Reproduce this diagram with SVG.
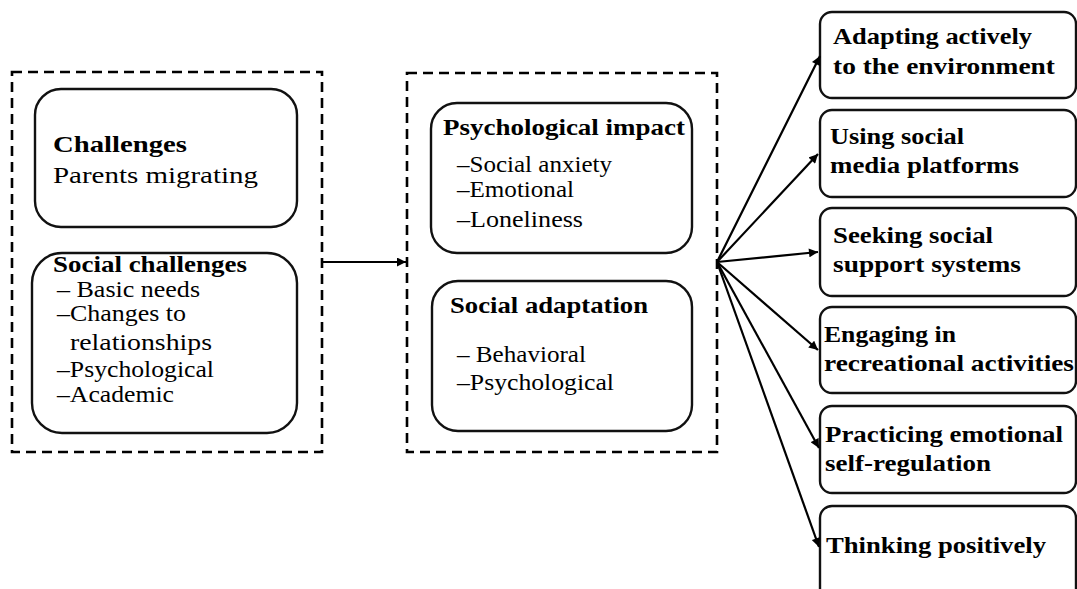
<svg xmlns="http://www.w3.org/2000/svg" width="1077" height="589" viewBox="0 0 1077 589">
<defs>
<style>
.dash{fill:none;stroke:#000;stroke-width:2.6;stroke-dasharray:10,6}
.box{fill:#fff;stroke:#111;stroke-width:2.4}
.t{font-family:"Liberation Serif",serif;font-size:24px;fill:#000}
.b{font-family:"Liberation Serif",serif;font-size:23px;font-weight:bold;fill:#000}
.c{stroke:#000;stroke-width:2.2;fill:none;marker-end:url(#ah)}
</style>
<marker id="ah" viewBox="0 0 10 10" refX="10" refY="5" markerWidth="10" markerHeight="9" markerUnits="userSpaceOnUse" orient="auto">
<path d="M0,0 L10,5 L0,10 z" fill="#000"/>
</marker>
</defs>
<rect width="1077" height="589" fill="#fff"/>

<g id="group-left">
<rect class="dash" x="12" y="72" width="310" height="380"/>
</g>
<g id="group-middle">
<rect class="dash" x="407" y="73" width="310" height="379"/>
</g>

<g id="node-challenges">
<rect class="box" x="35" y="89" width="262" height="138" rx="26"/>
<text class="b" x="53" y="152" font-size="25" textLength="134" lengthAdjust="spacingAndGlyphs">Challenges</text>
<text class="t" x="53" y="183" font-size="26" textLength="205" lengthAdjust="spacingAndGlyphs">Parents migrating</text>
</g>

<g id="node-social-challenges">
<rect class="box" x="32" y="253" width="265" height="180" rx="30"/>
<text class="b" x="53" y="272" textLength="194" lengthAdjust="spacingAndGlyphs">Social challenges</text>
<text class="t" x="57" y="297" textLength="143" lengthAdjust="spacingAndGlyphs">– Basic needs</text>
<text class="t" x="57" y="321" textLength="129" lengthAdjust="spacingAndGlyphs">–Changes to</text>
<text class="t" x="70" y="350" textLength="142" lengthAdjust="spacingAndGlyphs">relationships</text>
<text class="t" x="57" y="377" textLength="157" lengthAdjust="spacingAndGlyphs">–Psychological</text>
<text class="t" x="57" y="402" textLength="117" lengthAdjust="spacingAndGlyphs">–Academic</text>
</g>

<g id="node-psych-impact">
<rect class="box" x="431" y="103" width="261" height="150" rx="26"/>
<text class="b" x="443" y="135" textLength="242" lengthAdjust="spacingAndGlyphs">Psychological impact</text>
<text class="t" x="457" y="172" textLength="155" lengthAdjust="spacingAndGlyphs">–Social anxiety</text>
<text class="t" x="457" y="197" textLength="117" lengthAdjust="spacingAndGlyphs">–Emotional</text>
<text class="t" x="457" y="227" textLength="126" lengthAdjust="spacingAndGlyphs">–Loneliness</text>
</g>

<g id="node-social-adaptation">
<rect class="box" x="432" y="281" width="260" height="150" rx="26"/>
<text class="b" x="450" y="313" textLength="198" lengthAdjust="spacingAndGlyphs">Social adaptation</text>
<text class="t" x="457" y="362" textLength="129" lengthAdjust="spacingAndGlyphs">– Behavioral</text>
<text class="t" x="457" y="390" textLength="157" lengthAdjust="spacingAndGlyphs">–Psychological</text>
</g>

<g id="node-r1">
<rect class="box" x="820" y="12" width="256" height="86" rx="12"/>
<text class="b" x="833" y="44" textLength="199" lengthAdjust="spacingAndGlyphs">Adapting actively</text>
<text class="b" x="833" y="74" textLength="222" lengthAdjust="spacingAndGlyphs">to the environment</text>
</g>
<g id="node-r2">
<rect class="box" x="820" y="110" width="256" height="87" rx="12"/>
<text class="b" x="830" y="144" textLength="134" lengthAdjust="spacingAndGlyphs">Using social</text>
<text class="b" x="830" y="173" textLength="189" lengthAdjust="spacingAndGlyphs">media platforms</text>
</g>
<g id="node-r3">
<rect class="box" x="820" y="208" width="256" height="88" rx="12"/>
<text class="b" x="833" y="243" textLength="160" lengthAdjust="spacingAndGlyphs">Seeking social</text>
<text class="b" x="833" y="272" textLength="188" lengthAdjust="spacingAndGlyphs">support systems</text>
</g>
<g id="node-r4">
<rect class="box" x="820" y="307" width="256" height="86" rx="12"/>
<text class="b" x="824" y="342" textLength="132" lengthAdjust="spacingAndGlyphs">Engaging in</text>
<text class="b" x="824" y="371" textLength="250" lengthAdjust="spacingAndGlyphs">recreational activities</text>
</g>
<g id="node-r5">
<rect class="box" x="820" y="406" width="256" height="87" rx="12"/>
<text class="b" x="825" y="442" textLength="238" lengthAdjust="spacingAndGlyphs">Practicing emotional</text>
<text class="b" x="825" y="471" textLength="166" lengthAdjust="spacingAndGlyphs">self-regulation</text>
</g>
<g id="node-r6">
<rect class="box" x="820" y="506" width="256" height="100" rx="12"/>
<text class="b" x="826" y="553" textLength="220" lengthAdjust="spacingAndGlyphs">Thinking positively</text>
</g>

<g id="connectors">
<line class="c" x1="322" y1="262" x2="406" y2="262"/>
<line class="c" x1="717" y1="262" x2="820" y2="56"/>
<line class="c" x1="717" y1="262" x2="818" y2="154"/>
<line class="c" x1="717" y1="262" x2="818" y2="252"/>
<line class="c" x1="717" y1="262" x2="818" y2="350"/>
<line class="c" x1="717" y1="262" x2="819" y2="448"/>
<line class="c" x1="717" y1="262" x2="819" y2="547"/>
</g>
</svg>
